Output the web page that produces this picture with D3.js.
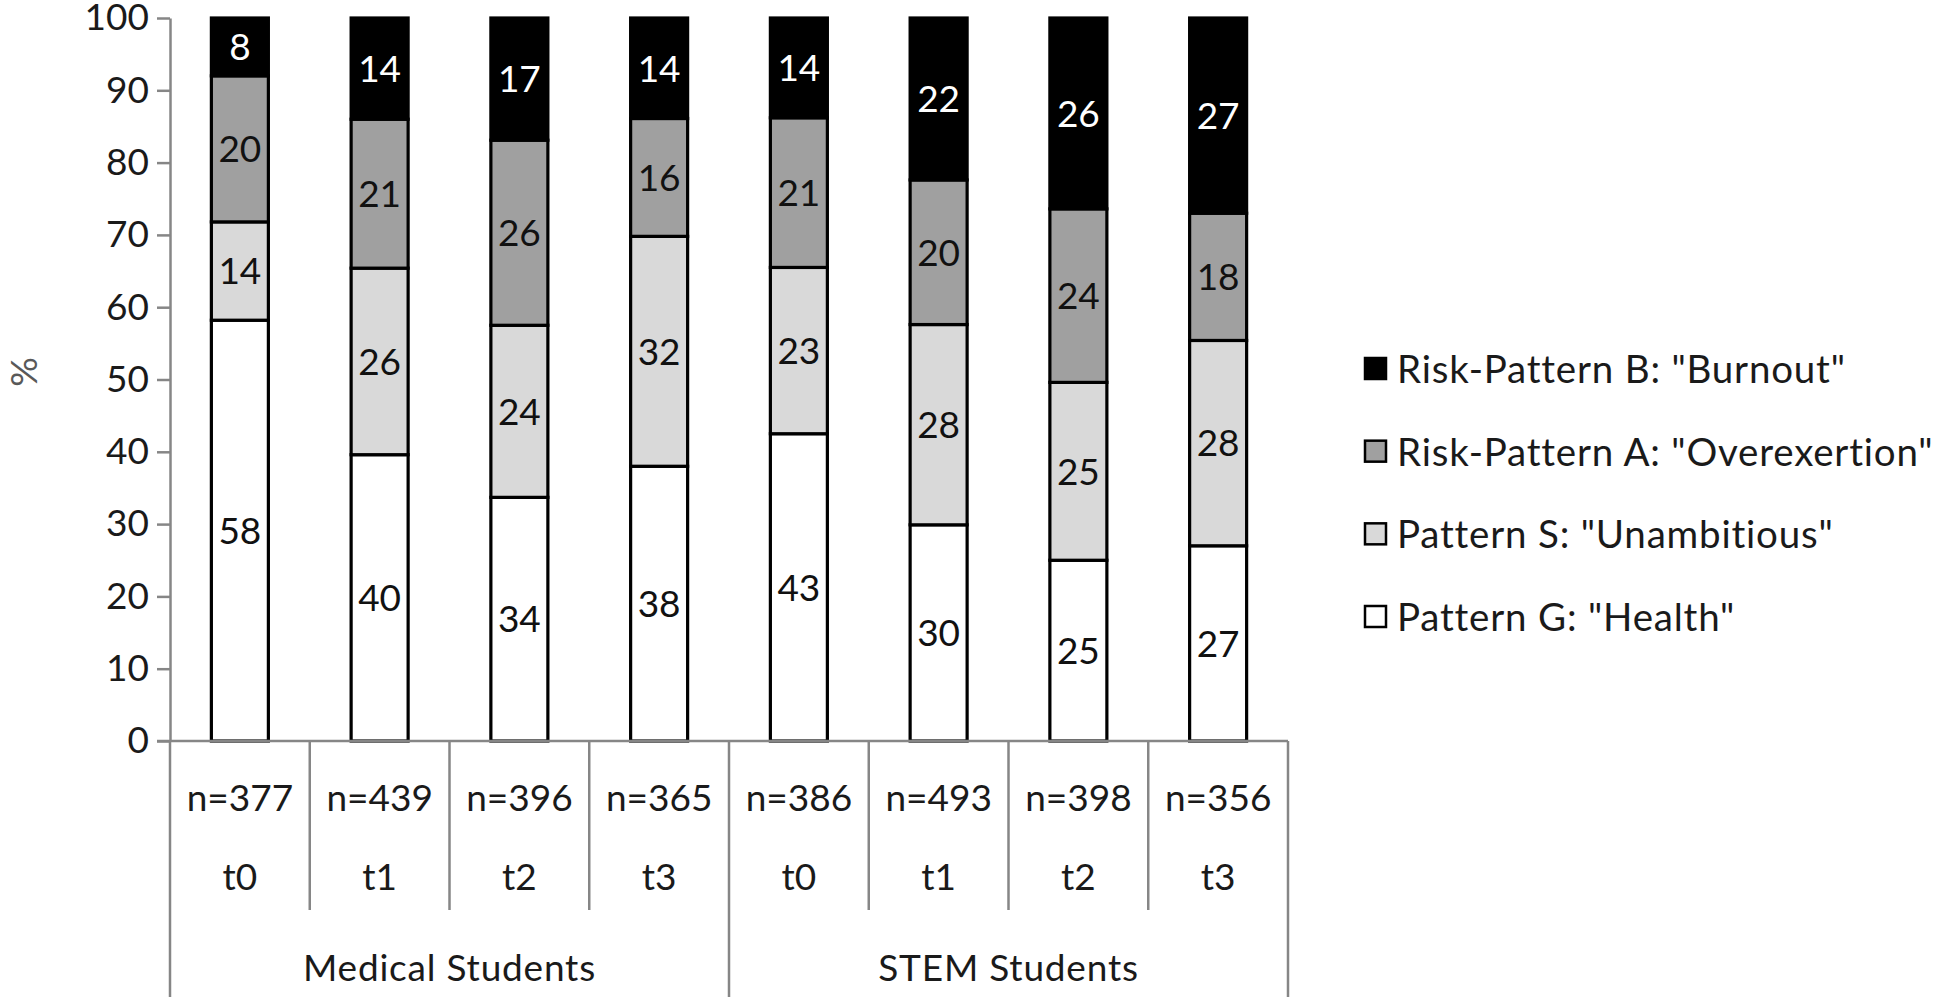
<!DOCTYPE html>
<html><head><meta charset="utf-8">
<script src="https://cdn.jsdelivr.net/npm/d3@7/dist/d3.min.js"></script>
<style>body{margin:0;background:#fff} text{font-family:Lato, "Open Sans", sans-serif}</style>
</head><body><svg id="c" width="1946" height="1002"></svg>
<script>
// ---- data ----
const groups = ["Medical Students", "STEM Students"];
const times = ["t0", "t1", "t2", "t3", "t0", "t1", "t2", "t3"];
const sampleSizes = ["n=377", "n=439", "n=396", "n=365", "n=386", "n=493", "n=398", "n=356"];
const seriesKeys = ["G", "S", "A", "B"];
const seriesNames = ['Pattern G: "Health"', 'Pattern S: "Unambitious"', 'Risk-Pattern A: "Overexertion"', 'Risk-Pattern B: "Burnout"'];
const patternG = [58.2, 39.6, 33.7, 38.0, 42.5, 29.9, 25.0, 27.0];
const patternS = [13.6, 25.8, 23.8, 31.8, 23.0, 27.7, 24.6, 28.4];
const patternA = [20.2, 20.6, 25.6, 16.3, 20.7, 20.0, 24.0, 17.6];
const patternB = [8.0, 14.0, 16.9, 13.9, 13.8, 22.4, 26.4, 27.0];
const yTicks = [0, 10, 20, 30, 40, 50, 60, 70, 80, 90, 100];

// ---- build ----
const fills = {G: "#ffffff", S: "#d9d9d9", A: "#a0a0a0", B: "#000000"};
const labelColor = {G: "#111", S: "#111", A: "#111", B: "#fff"};
const rows = times.map((t, i) => ({idx: i, G: patternG[i], S: patternS[i], A: patternA[i], B: patternB[i]}));

const svg = d3.select("#c");
const axisColor = "#868686";
const fs = 37;

const x = d3.scaleBand().domain(d3.range(times.length)).range([170, 1288]).padding(0);
const y = d3.scaleLinear().domain([0, 100]).range([741, 18]);
const barW = 57;

const stack = d3.stack().keys(seriesKeys)(rows);

// bars
const gBars = svg.append("g");
stack.forEach(layer => {
  const key = layer.key;
  gBars.selectAll(null).data(layer).enter().append("rect")
    .attr("x", d => x(d.data.idx) + x.bandwidth() / 2 - barW / 2)
    .attr("y", d => y(d[1]))
    .attr("width", barW)
    .attr("height", d => y(d[0]) - y(d[1]))
    .attr("fill", fills[key])
    .attr("stroke", "#000")
    .attr("stroke-width", 3.2);
});
// labels
stack.forEach(layer => {
  const key = layer.key;
  gBars.selectAll(null).data(layer).enter().append("text")
    .attr("x", d => x(d.data.idx) + x.bandwidth() / 2)
    .attr("y", d => (y(d[0]) + y(d[1])) / 2)
    .attr("dy", "0.36em")
    .attr("text-anchor", "middle")
    .attr("font-size", fs)
    .attr("fill", labelColor[key])
    .text(d => Math.round(d[1] - d[0]));
});

// y axis
const yAxis = svg.append("g").attr("transform", "translate(170,0)")
  .call(d3.axisLeft(y).tickValues(yTicks).tickSize(13).tickPadding(8).tickSizeOuter(0));
yAxis.select(".domain").attr("stroke", axisColor).attr("stroke-width", 2.5);
yAxis.selectAll(".tick line").attr("stroke", axisColor).attr("stroke-width", 2.5);
yAxis.selectAll(".tick text").attr("font-size", fs).attr("fill", "#1a1a1a").attr("font-family", "Lato, sans-serif");

svg.append("text").attr("transform", "translate(37,372) rotate(-90)")
  .attr("text-anchor", "middle").attr("font-size", fs).attr("fill", "#595959").text("%");

// x axis
svg.append("line").attr("x1", 157).attr("x2", 1288).attr("y1", y(0)).attr("y2", y(0))
  .attr("stroke", axisColor).attr("stroke-width", 2.5);
d3.range(times.length + 1).forEach(i => {
  const xx = i < times.length ? x(i) : x(times.length - 1) + x.bandwidth();
  const isGroup = i % 4 === 0;
  svg.append("line").attr("x1", xx).attr("x2", xx).attr("y1", y(0)).attr("y2", isGroup ? 997 : 910)
    .attr("stroke", axisColor).attr("stroke-width", 2.5);
});
svg.selectAll(null).data(sampleSizes).enter().append("text")
  .attr("x", (d, i) => x(i) + x.bandwidth() / 2).attr("y", 798).attr("dy", "0.36em")
  .attr("text-anchor", "middle").attr("font-size", fs).attr("fill", "#1a1a1a").text(d => d);
svg.selectAll(null).data(times).enter().append("text")
  .attr("x", (d, i) => x(i) + x.bandwidth() / 2).attr("y", 877).attr("dy", "0.36em")
  .attr("text-anchor", "middle").attr("font-size", fs).attr("fill", "#1a1a1a").text(d => d);
svg.selectAll(null).data(groups).enter().append("text")
  .attr("x", (d, i) => (x(i * 4) + x(i * 4 + 3) + x.bandwidth()) / 2).attr("y", 968).attr("dy", "0.36em")
  .attr("text-anchor", "middle").attr("font-size", fs).attr("letter-spacing", 0.8).attr("fill", "#1a1a1a").text(d => d);

// legend
const legendOrder = [3, 2, 1, 0];
const legY = d3.scalePoint().domain(legendOrder).range([369, 617]);
const leg = svg.append("g");
legendOrder.forEach(k => {
  const cy = legY(k);
  leg.append("rect").attr("x", 1365).attr("y", cy - 11).attr("width", 21).attr("height", 21)
    .attr("fill", fills[seriesKeys[k]]).attr("stroke", "#000").attr("stroke-width", 2.5);
  leg.append("text").attr("x", 1397).attr("y", cy).attr("dy", "0.36em")
    .attr("font-size", 38.5).attr("letter-spacing", 0.8).attr("fill", "#1a1a1a").text(seriesNames[k]);
});
</script>
</body></html>
